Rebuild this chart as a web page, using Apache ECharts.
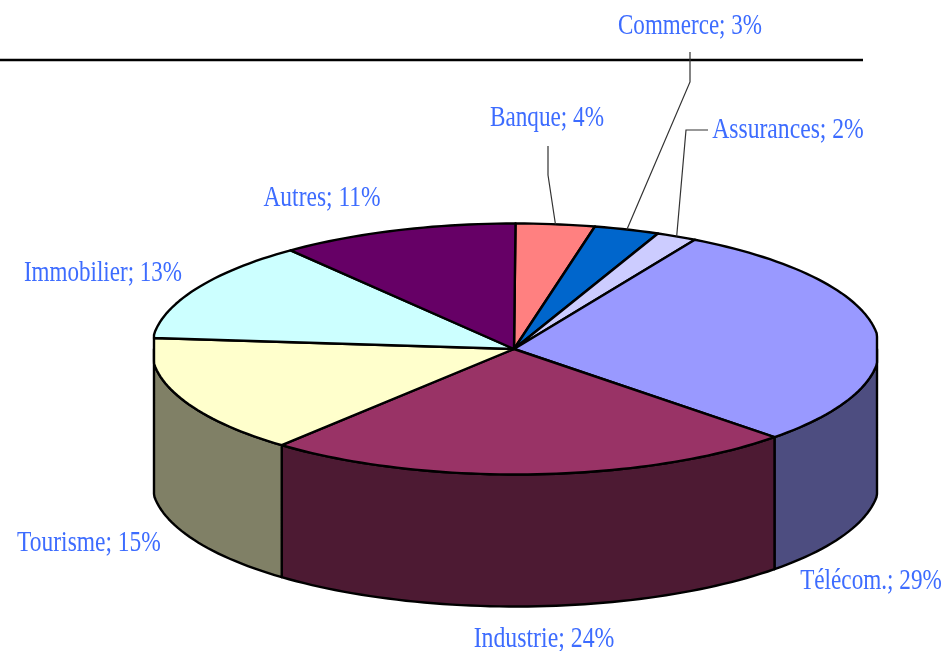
<!DOCTYPE html>
<html><head><meta charset="utf-8">
<style>html,body{margin:0;padding:0;background:#fff}#c{width:943px;height:651px}</style>
<script src="https://cdn.jsdelivr.net/npm/echarts@6/dist/echarts.min.js"></script>
</head><body><div id="c"></div>
<script>
const categories = ['Banque','Commerce','Assurances','Télécom.','Industrie','Tourisme','Immobilier','Autres'];
const shares = [3.5,2.9,1.8,29.2,23.7,15.3,13.0,10.6];
const percentLabels = [4,3,2,29,24,15,13,11];
const topColors = ['#FF8080','#0066CC','#CCCCFF','#9999FF','#993366','#FFFFCC','#CCFFFF','#660066'];
const sideColors = ['#804040','#003366','#666680','#4D4D80','#4D1A33','#808066','#668080','#330033'];

// layout
const CX=515.5, CY=349, RX=364, RY=125.5, DEPTH=132, XMIN=154, XMAX=877;
const labelCenters = [[547,118],[690,26],[788,130],[871,581],[544,639],[89,543],[103,273],[322,198]];
const labelScales = [0.8,0.795,0.815,0.8,0.82,0.81,0.795,0.81];
const leaderElbows = {0:[[548,146],[548,175]],1:[[690,52],[690,82]],2:[[708,130],[686,130]]};
const FONT='29px "Liberation Serif"';

const total = shares.reduce((a,b)=>a+b,0);
let cum=0;
const rows = shares.map((s,i)=>{const a=cum/total*360;cum+=s;return [a,cum/total*360,i];});
const rad=d=>d*Math.PI/180;
const pt=(deg,dy)=>[Math.min(XMAX,Math.max(XMIN,CX+RX*Math.sin(rad(deg)))),CY-RY*Math.cos(rad(deg))+(dy||0)];
function arc(a,b,dy){const n=Math.max(2,Math.ceil((b-a)/1.5));const p=[];for(let i=0;i<=n;i++)p.push(pt(a+(b-a)*i/n,dy));return p;}
const edge={stroke:'#000',lineWidth:2.4,lineJoin:'round'};

function renderWall(params,api){
  const a=Math.max(api.value(0),90),b=Math.min(api.value(1),270),i=api.value(2);
  if(b<=a)return null;
  return {type:'polygon',shape:{points:arc(a,b,0).concat(arc(a,b,DEPTH).reverse())},style:Object.assign({fill:sideColors[i]},edge)};
}
function renderTop(params,api){
  const a=api.value(0),b=api.value(1),i=api.value(2);
  return {type:'polygon',shape:{points:[[CX-1.5,CY]].concat(arc(a,b,0))},style:Object.assign({fill:topColors[i]},edge)};
}
function renderLabel(params,api){
  const a=api.value(0),b=api.value(1),i=api.value(2),c=labelCenters[i];
  const kids=[];
  if(leaderElbows[i]){
    kids.push({type:'polyline',shape:{points:leaderElbows[i].concat([pt((a+b)/2,0)])},style:{fill:null,stroke:'#333',lineWidth:1.2}});
  }
  kids.push({type:'text',x:c[0],y:c[1],scaleX:labelScales[i],style:{text:categories[i]+'; '+percentLabels[i]+'%',font:FONT,fill:'#3D6CFF',align:'center',verticalAlign:'middle'}});
  return {type:'group',children:kids};
}
const chart=echarts.init(document.getElementById('c'),null,{renderer:'canvas'});
chart.setOption({
  animation:false,
  backgroundColor:'#fff',
  graphic:[{type:'line',z:0,shape:{x1:0,y1:60,x2:863,y2:60},style:{stroke:'#000',lineWidth:2.5}}],
  series:[
    {type:'custom',coordinateSystem:'none',silent:true,z:2,data:rows,renderItem:renderWall,clip:false},
    {type:'custom',coordinateSystem:'none',silent:true,z:3,data:rows,renderItem:renderTop,clip:false},
    {type:'custom',coordinateSystem:'none',silent:true,z:4,data:rows,renderItem:renderLabel,clip:false}
  ]
});
</script></body></html>
